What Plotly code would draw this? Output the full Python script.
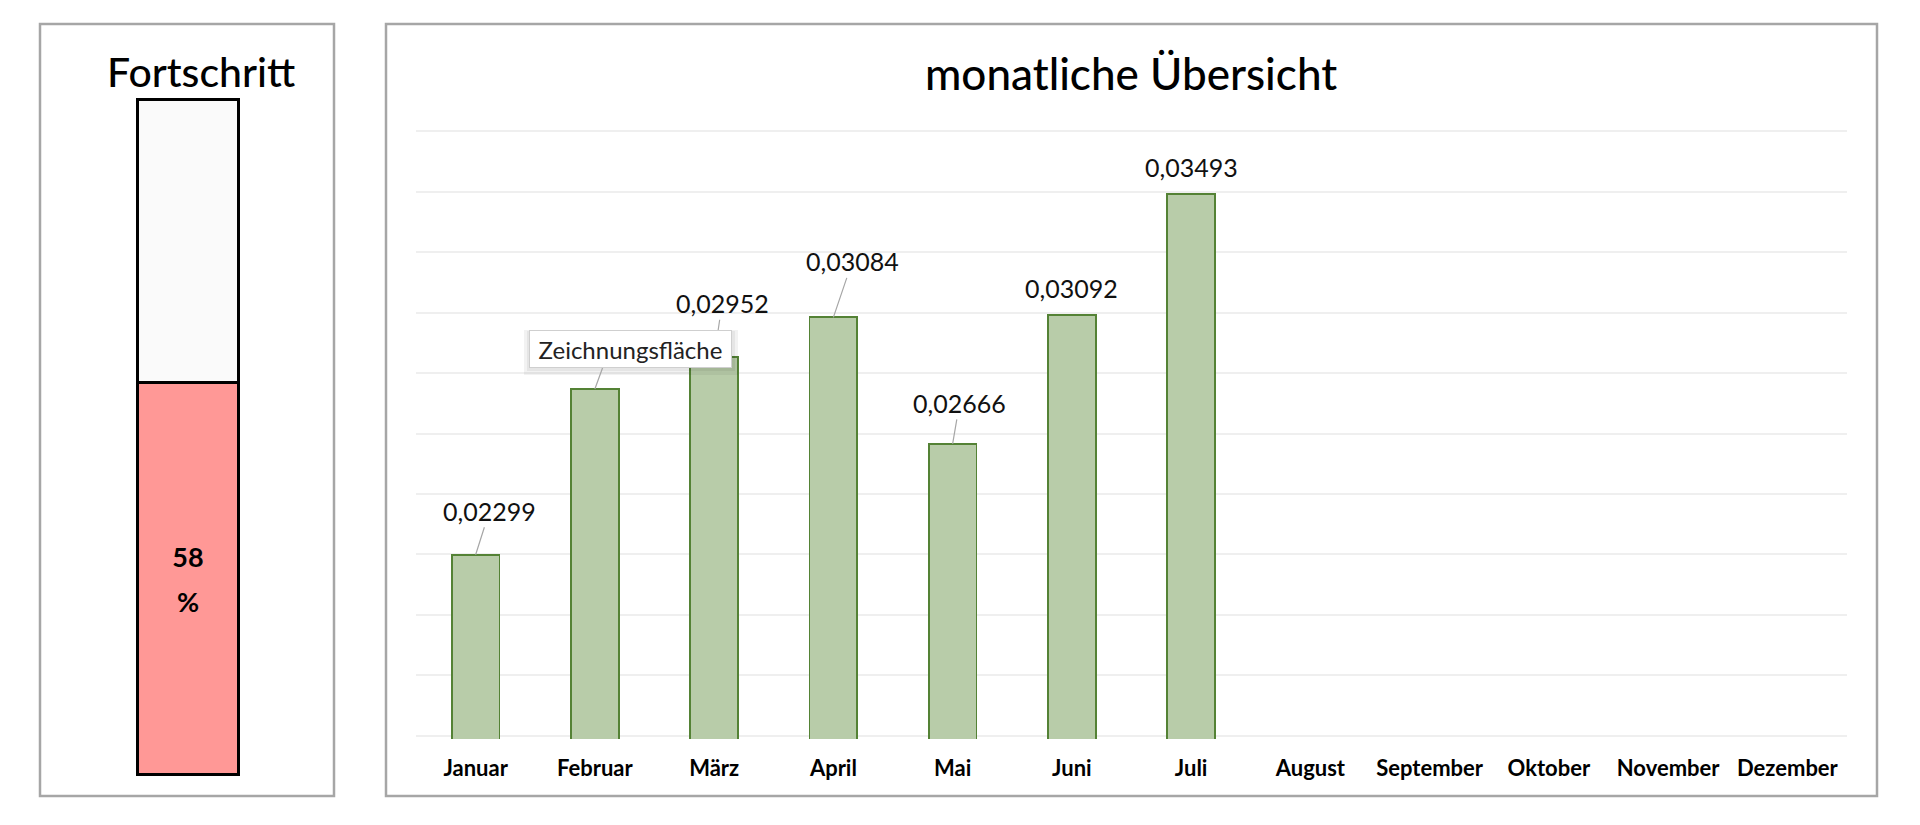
import plotly.graph_objects as go

# Fortschritt (thermometer)
fortschritt = 58
rest = 100 - fortschritt

# monatliche Übersicht
monate = ["Januar", "Februar", "März", "April", "Mai", "Juni", "Juli",
          "August", "September", "Oktober", "November", "Dezember"]
werte = [0.02299, 0.02847, 0.02952, 0.03084, 0.02666, 0.03092, 0.03493,
         None, None, None, None, None]

# label offsets in px (dx, dy), leader line yes/no
label_offsets = [(14, -44, True), (16, -44, True), (8, -54, True), (19, -56, True),
                 (7, -41, True), (0, -27, False), (0, -27, False)]

FONT = "Lato"
W, H = 1920, 825

fig = go.Figure()

fig.add_trace(go.Bar(
    x=monate, y=werte, width=0.4,
    marker=dict(color="#B8CCA9", line=dict(color="#548235", width=1.8)),
    xaxis="x", yaxis="y", hoverinfo="x+y",
))

fig.add_trace(go.Bar(
    x=[0], y=[fortschritt], width=1,
    marker=dict(color="#FF9896", line=dict(color="black", width=3)),
    text=[f"<span style='font-size:27px'>{fortschritt}</span><br>"
          f"<span style='font-size:27px'>%</span>"],
    textposition="inside", insidetextanchor="middle",
    textfont=dict(family=FONT, size=34, color="black", weight="bold"),
    xaxis="x2", yaxis="y2",
))
fig.add_trace(go.Bar(
    x=[0], y=[rest], width=1,
    marker=dict(color="#FAFAFA", line=dict(color="black", width=3)),
    xaxis="x2", yaxis="y2", hoverinfo="skip",
))

annotations = []
for m, v, (dx, dy, leader) in zip(monate, werte, label_offsets):
    txt = f"{v:.5f}".replace(".", ",")
    if leader:
        annotations.append(dict(
            x=m, y=v, xref="x", yref="y", text=txt, showarrow=True,
            ax=dx, ay=dy, arrowhead=0, arrowwidth=1.2, arrowcolor="#A6A6A6",
            standoff=0, font=dict(family=FONT, size=25, color="#111111"),
        ))
    else:
        annotations.append(dict(
            x=m, y=v, xref="x", yref="y", text=txt, showarrow=False,
            xanchor="center", yanchor="middle", yshift=-dy, xshift=dx,
            font=dict(family=FONT, size=25, color="#111111"),
        ))

annotations += [
    dict(x=201 / W, y=1 - 71 / H, xref="paper", yref="paper",
         xanchor="center", yanchor="middle",
         text="Fortschritt", showarrow=False,
         font=dict(family=FONT, size=41, color="black", weight=500)),
    dict(x=1131 / W, y=1 - 73 / H, xref="paper", yref="paper",
         xanchor="center", yanchor="middle",
         text="monatliche Übersicht", showarrow=False,
         font=dict(family=FONT, size=44, color="black", weight=500)),
    # Excel tooltip
    dict(x=630 / W, y=1 - 349.5 / H, xref="paper", yref="paper",
         xanchor="center", yanchor="middle",
         text="Zeichnungsfläche", showarrow=False, bgcolor="white",
         bordercolor="#CFCFCF", borderwidth=1, borderpad=3,
         width=195, height=30,
         font=dict(family=FONT, size=24, color="#222222")),
]

shapes = [
    dict(type="rect", xref="paper", yref="paper", x0=40 / W, x1=334 / W,
         y0=1 - 796 / H, y1=1 - 24 / H, line=dict(color="#A6A6A6", width=2.5),
         layer="below"),
    dict(type="rect", xref="paper", yref="paper", x0=386 / W, x1=1877 / W,
         y0=1 - 796 / H, y1=1 - 24 / H, line=dict(color="#A6A6A6", width=2.5),
         layer="below"),
    # tooltip shadow
    dict(type="rect", xref="paper", yref="paper", x0=524 / W, x1=738 / W,
         y0=1 - 375 / H, y1=1 - 330 / H, line=dict(width=0),
         fillcolor="rgba(0,0,0,0.05)", layer="above"),
    dict(type="rect", xref="paper", yref="paper", x0=527 / W, x1=735 / W,
         y0=1 - 371 / H, y1=1 - 331 / H, line=dict(width=0),
         fillcolor="rgba(0,0,0,0.05)", layer="above"),
]

fig.update_layout(
    width=W, height=H,
    margin=dict(l=0, r=0, t=0, b=0),
    paper_bgcolor="white", plot_bgcolor="white",
    barmode="stack", showlegend=False,
    annotations=annotations, shapes=shapes,
    xaxis=dict(domain=[416 / W, 1847 / W], type="category",
               categoryorder="array", categoryarray=monate, range=[-0.5, 11.5],
               showgrid=False, zeroline=False, showline=False,
               ticks="outside", ticklen=10, tickcolor="rgba(0,0,0,0)",
               tickfont=dict(family=FONT, size=22, color="black", weight="bold")),
    yaxis=dict(domain=[1 - 739 / H, 1 - 128 / H], range=[0.0169, 0.0371],
               tick0=0.017, dtick=0.002, showticklabels=False,
               gridcolor="#EFEFEF", gridwidth=1.5, zeroline=False, showline=False),
    xaxis2=dict(domain=[133 / W, 243 / W], range=[-0.54, 0.54],
                visible=False, anchor="y2"),
    yaxis2=dict(domain=[1 - 779 / H, 1 - 95 / H], range=[-0.6, 100.6],
                visible=False, anchor="x2"),
)

fig.write_html("out.html", config={"displayModeBar": False},
               post_script="document.body.style.margin='0px';")
